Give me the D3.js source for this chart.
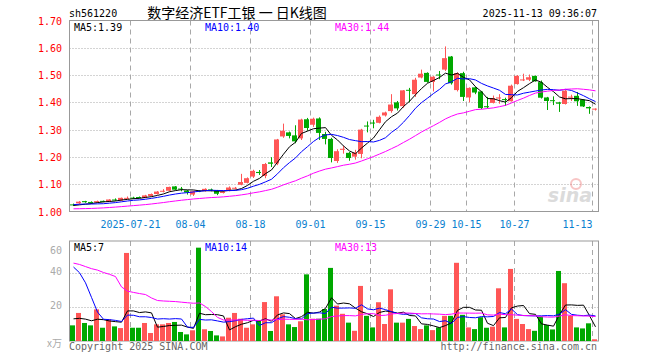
<!DOCTYPE html>
<html>
<head>
<meta charset="utf-8">
<script src="https://cdn.jsdelivr.net/npm/d3@7/dist/d3.min.js"></script>
<style>
body { margin: 0; background: #fff; }
svg text { font-family: "DejaVu Sans Mono", monospace; font-size: 10px; }
</style>
</head>
<body>
<svg id="chart" width="660" height="360"></svg>
<script>
// daily candles, 2025-07-07 .. 2025-11-13 (88 sessions)
var open = [1.026,1.030,1.038,1.035,1.033,1.039,1.036,1.044,1.040,1.048,
            1.051,1.053,1.050,1.057,1.064,1.074,1.076,1.092,1.084,1.077,
            1.062,1.076,1.075,1.081,1.077,1.068,1.075,1.084,1.098,1.105,
            1.128,1.145,1.130,1.180,1.176,1.275,1.290,1.279,1.268,1.338,
            1.318,1.341,1.284,1.266,1.185,1.226,1.215,1.201,1.211,1.315,
            1.326,1.325,1.352,1.368,1.400,1.386,1.446,1.430,1.491,1.508,
            1.475,1.502,1.520,1.568,1.445,1.507,1.418,1.455,1.440,1.386,
            1.398,1.414,1.412,1.404,1.467,1.482,1.483,1.497,1.474,1.418,
            1.408,1.400,1.394,1.418,1.424,1.410,1.383,1.375];
var high = [1.029,1.038,1.039,1.037,1.040,1.040,1.045,1.048,1.051,1.055,
            1.054,1.055,1.061,1.066,1.075,1.082,1.091,1.093,1.090,1.079,
            1.076,1.078,1.085,1.084,1.079,1.075,1.092,1.090,1.138,1.125,
            1.153,1.152,1.178,1.199,1.266,1.322,1.293,1.316,1.340,1.343,
            1.344,1.345,1.292,1.270,1.228,1.240,1.218,1.226,1.303,1.330,
            1.336,1.352,1.366,1.430,1.405,1.445,1.453,1.490,1.520,1.510,
            1.496,1.515,1.605,1.570,1.510,1.512,1.455,1.457,1.442,1.420,
            1.425,1.430,1.417,1.465,1.500,1.505,1.502,1.498,1.480,1.420,
            1.422,1.402,1.445,1.428,1.438,1.412,1.385,1.378];
var low = [1.020,1.028,1.032,1.028,1.031,1.034,1.035,1.039,1.039,1.046,
           1.046,1.048,1.049,1.055,1.062,1.070,1.074,1.078,1.074,1.062,
           1.057,1.071,1.073,1.074,1.060,1.066,1.074,1.081,1.096,1.103,
           1.123,1.134,1.122,1.163,1.170,1.270,1.268,1.250,1.262,1.296,
           1.310,1.262,1.246,1.180,1.178,1.212,1.186,1.190,1.195,1.290,
           1.305,1.323,1.348,1.362,1.370,1.380,1.400,1.420,1.488,1.472,
           1.440,1.485,1.515,1.465,1.440,1.405,1.400,1.430,1.375,1.378,
           1.396,1.395,1.387,1.403,1.465,1.478,1.478,1.476,1.414,1.372,
           1.390,1.365,1.392,1.405,1.387,1.383,1.358,1.370];
var close = [1.023,1.036,1.034,1.032,1.038,1.036,1.044,1.042,1.050,1.050,
             1.049,1.050,1.059,1.064,1.073,1.076,1.090,1.080,1.081,1.070,
             1.074,1.073,1.083,1.079,1.065,1.073,1.088,1.087,1.108,1.122,
             1.149,1.141,1.174,1.175,1.264,1.296,1.277,1.257,1.337,1.306,
             1.340,1.288,1.266,1.196,1.221,1.230,1.196,1.216,1.300,1.312,
             1.323,1.347,1.363,1.392,1.378,1.444,1.443,1.483,1.505,1.475,
             1.494,1.499,1.562,1.470,1.507,1.420,1.453,1.436,1.379,1.382,
             1.416,1.418,1.409,1.461,1.497,1.484,1.492,1.477,1.417,1.405,
             1.405,1.395,1.443,1.421,1.404,1.385,1.378,1.377];
// volume, x万
var volume = [9.2,16.5,10.6,9.2,18.6,7.8,12.7,8.6,7.6,51.8,
              7.8,7.8,10.6,4.7,9.8,9.8,10.6,11.2,5.3,3.9,
              6.3,54.9,6.9,5.9,3.3,2.7,13.7,16.5,13.1,7.8,
              9.8,11.8,22.9,5.9,26.3,15.7,9.8,8.2,11.6,39.2,
              13.1,13.1,18.8,43,20.8,16,10.8,6,32.4,14.8,
              8,22.8,10,30.4,10.8,10.8,13,8.8,7,9.2,
              6.4,8,14.8,14.8,46,15.4,8,7,14,7.8,
              8.4,31,8,42.4,13,10,7,6,14.4,9.4,
              6.8,41.2,34,14.8,8,7.4,10.4,1];
// sessions before the window, read back from where the MA lines start
var closeBefore = [1.025,1.020,1.015,1.010,1.004,1.000,0.998,0.996,0.995,0.997,
                   0.996,0.998,0.997,0.995,0.996,0.998,0.999,1.000,1.002,1.004,
                   1.020,1.028,1.030,1.032,1.030,1.024,1.022,1.020,1.021];
var volumeBefore = [40,48,46,44,50,45,48,190,127,30,
                    28,28,65,55,18,16,16,16,14,15,
                    50,70,95,105,50,15,13,14,14];

var dateTicks = [10, 20, 30, 40, 50, 60, 66, 74, 87];
var dateLabels = ["2025-07-21", "08-04", "08-18", "09-01", "09-15", "09-29", "10-15", "10-27", "11-13"];
var priceTicks = [1.00, 1.10, 1.20, 1.30, 1.40, 1.50, 1.60, 1.70];
var volTicks = [20, 40, 60];
var maDays = [5, 10, 30];
var maPriceText = ["MA5:1.39", "MA10:1.40", "MA30:1.44"];
var maVolText = ["MA5:7", "MA10:14", "MA30:13"];
var maColors = ["#000", "#0000ff", "#ff00ff"];

var svg = d3.select("#chart");
var left = 69.5, right = 598.5;
var upColor = "#ff5656", downColor = "#00a800", gridColor = "#a8a8a8";

var x = d3.scaleBand()
    .domain(d3.range(close.length))
    .range([69.5, 597.5])
    .paddingInner(1 / 6)
    .paddingOuter(1 / 12);
var y = d3.scaleLinear().domain([1.0, 1.7]).range([211.5, 20.5]);
var yv = d3.scaleLinear().domain([0, 60]).range([341, 239]);
var mid = function (i) { return Math.round(x(i) + x.bandwidth() / 2) + 0.5; };

function movingAvg(vals, before, n) {
    var all = before.concat(vals), off = before.length;
    return vals.map(function (v, i) {
        return d3.mean(all.slice(off + i - n + 1, off + i + 1));
    });
}
function isUp(i) { return close[i] >= open[i]; }

// header
svg.append("text").attr("x", 69).attr("y", 17).text("sh561220");
svg.append("text").attr("x", 237).attr("y", 18).attr("text-anchor", "middle")
    .style("font-family", "'Noto Sans CJK SC', sans-serif").style("font-size", "14px")
    .text("数字经济ETF工银 一 日K线图");
svg.append("text").attr("x", 597).attr("y", 17).attr("text-anchor", "end").text("2025-11-13 09:36:07");

function panel(top, bottom, hTicks, yScale) {
    var g = svg.append("g");
    g.selectAll(".hg").data(hTicks).join("line")
        .attr("x1", left).attr("x2", right)
        .attr("y1", function (d) { return Math.round(yScale(d)) + 0.5; })
        .attr("y2", function (d) { return Math.round(yScale(d)) + 0.5; })
        .attr("stroke", gridColor).attr("stroke-dasharray", "1,2");
    g.selectAll(".vg").data(dateTicks).join("line")
        .attr("x1", function (d) { return x(d) + 0.5; })
        .attr("x2", function (d) { return x(d) + 0.5; })
        .attr("y1", top).attr("y2", bottom)
        .attr("stroke", gridColor).attr("stroke-dasharray", "5,4");
    g.append("rect").attr("x", left).attr("y", top)
        .attr("width", right - left).attr("height", bottom - top)
        .attr("fill", "none").attr("stroke", "#999");
    return g;
}

// price panel
panel(20.5, 211.5, priceTicks.slice(1, -1), y);
svg.selectAll(".pl").data(priceTicks).join("text")
    .attr("x", 62).attr("y", function (d) { return y(d) + 4; })
    .attr("text-anchor", "end").attr("fill", "#ff0000")
    .text(function (d) { return d.toFixed(2); });

svg.selectAll(".dl").data(dateTicks).join("text")
    .attr("x", function (d) { return x(d) + 0.5; })
    .attr("y", 228)
    .attr("text-anchor", function (d, i) { return i == dateTicks.length - 1 ? "end" : "middle"; })
    .attr("fill", "#0a7fd0")
    .text(function (d, i) { return dateLabels[i]; });

// sina watermark
var wm = svg.append("g").attr("opacity", 0.45);
wm.append("circle").attr("cx", 576).attr("cy", 184).attr("r", 5).attr("fill", "none")
    .attr("stroke", "#f08080").attr("stroke-width", 2);
wm.append("text").attr("x", 592).attr("y", 202).attr("text-anchor", "end")
    .style("font-family", "'DejaVu Sans', sans-serif").style("font-size", "19px")
    .style("font-weight", "bold").style("font-style", "italic")
    .attr("fill", "#b0b0b0").text("sina");

var idx = d3.range(close.length);
var candles = svg.append("g");
candles.selectAll(".wick").data(idx).join("line")
    .attr("x1", mid).attr("x2", mid)
    .attr("y1", function (i) { return y(high[i]); })
    .attr("y2", function (i) { return y(low[i]); })
    .attr("stroke", function (i) { return isUp(i) ? upColor : downColor; });
candles.selectAll(".body").data(idx).join("rect")
    .attr("x", function (i) { return x(i); })
    .attr("width", x.bandwidth())
    .attr("y", function (i) { return y(Math.max(open[i], close[i])); })
    .attr("height", function (i) { return Math.max(1, Math.abs(y(open[i]) - y(close[i]))); })
    .attr("fill", function (i) { return isUp(i) ? upColor : downColor; });

maDays.forEach(function (n, k) {
    var vals = movingAvg(close, closeBefore, n);
    svg.append("path").datum(vals)
        .attr("fill", "none").attr("stroke", maColors[k]).attr("stroke-width", 1)
        .attr("d", d3.line().x(function (d, i) { return mid(i); }).y(function (d) { return y(d); }));
});
svg.selectAll(".mat").data(maPriceText).join("text")
    .attr("x", function (d, i) { return [74, 205, 335][i]; }).attr("y", 31)
    .attr("fill", function (d, i) { return maColors[i]; })
    .text(function (d) { return d; });

// volume panel
panel(241, 341, volTicks.slice(0, 2), yv);
svg.selectAll(".vl").data(volTicks).join("text")
    .attr("x", 62).attr("y", function (d) { return d == 60 ? 254 : yv(d) + 2; })
    .attr("text-anchor", "end").attr("fill", "#aaa")
    .text(function (d) { return d; });
svg.append("text").attr("x", 62).attr("y", 347).attr("text-anchor", "end")
    .attr("fill", "#aaa").style("font-family", "'Noto Sans CJK SC', sans-serif").text("x万");

svg.append("g").selectAll("rect").data(idx).join("rect")
    .attr("x", function (i) { return x(i); })
    .attr("width", x.bandwidth())
    .attr("y", function (i) { return yv(volume[i]); })
    .attr("height", function (i) { return yv(0) - yv(volume[i]); })
    .attr("fill", function (i) { return isUp(i) ? upColor : downColor; });

maDays.forEach(function (n, k) {
    var vals = movingAvg(volume, volumeBefore, n);
    svg.append("path").datum(vals)
        .attr("fill", "none").attr("stroke", maColors[k]).attr("stroke-width", 1)
        .attr("d", d3.line().x(function (d, i) { return mid(i); }).y(function (d) { return yv(d); }));
});
svg.selectAll(".mvt").data(maVolText).join("text")
    .attr("x", function (d, i) { return [74, 205, 335][i]; }).attr("y", 251)
    .attr("fill", function (d, i) { return maColors[i]; })
    .text(function (d) { return d; });

svg.append("text").attr("x", 69).attr("y", 350).attr("fill", "#666").text("Copyright 2025 SINA.COM");
svg.append("text").attr("x", 597).attr("y", 350).attr("text-anchor", "end").attr("fill", "#666")
    .text("http://finance.sina.com.cn");
</script>
</body>
</html>
